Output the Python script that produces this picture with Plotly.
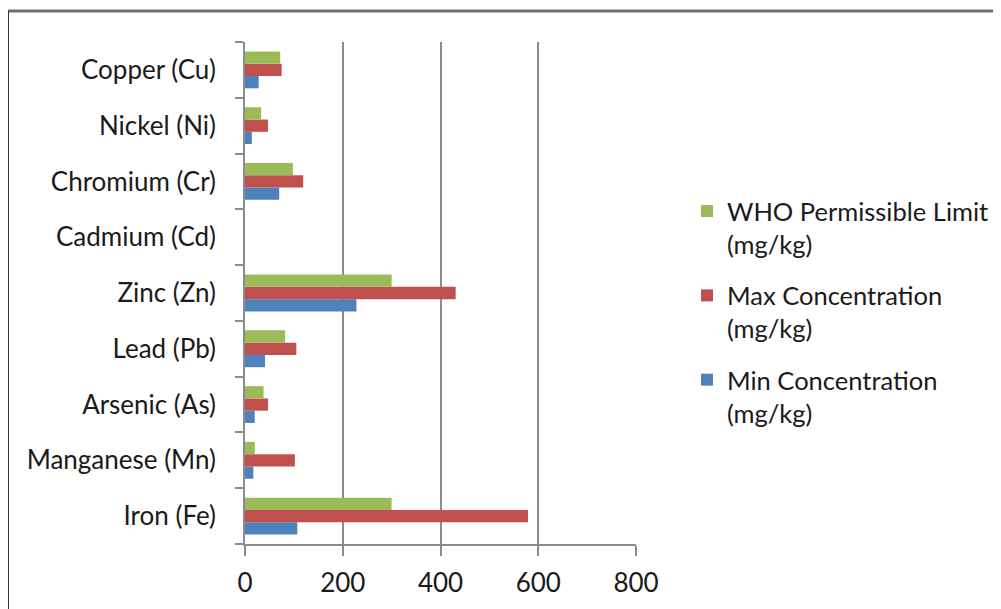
import plotly.graph_objects as go

categories = ["Iron (Fe)", "Manganese (Mn)", "Arsenic (As)", "Lead (Pb)", "Zinc (Zn)",
              "Cadmium (Cd)", "Chromium (Cr)", "Nickel (Ni)", "Copper (Cu)"]
min_conc = [107, 17, 20, 41, 228, 0, 70, 14, 28]
max_conc = [579, 102, 47, 105, 431, 0, 119, 47, 75]
who_limit = [300, 20, 38, 82, 300, 0, 98, 33, 72]

series_names = ["Min Concentration<br>(mg/kg)", "Max Concentration<br>(mg/kg)",
                "WHO Permissible Limit<br>(mg/kg)"]
series_values = [min_conc, max_conc, who_limit]
series_colors = ["#4F81BD", "#C0504D", "#9BBB59"]
legend_ranks = [3, 2, 1]

FONT = "Lato, Calibri, Carlito, sans-serif"
TXT = "#1a1a1a"

fig = go.Figure()
for i, (name, vals, col, rk) in enumerate(zip(series_names, series_values, series_colors, legend_ranks)):
    fig.add_trace(go.Bar(
        y=categories, x=vals, name=name, orientation="h",
        marker=dict(color=col, line=dict(width=0)),
        legendgroup=f"g{i}", legendrank=rk,
    ))

# page body adds an 8px offset; figure coordinates below are screen px - 8
W, H = 1001, 609
L, R, T, B = 237, 373, 34, 73
pw, ph = W - L - R, H - T - B

def px_x(p):
    return (p - L) / pw

def px_y(p):
    return (H - B - p) / ph

fig.update_layout(
    width=W, height=H,
    margin=dict(l=L, r=R, t=T, b=B, autoexpand=False),
    paper_bgcolor="white", plot_bgcolor="white",
    barmode="group", bargap=0.34, bargroupgap=0,
    font=dict(family=FONT, size=26, color=TXT),
    showlegend=True,
    legend=dict(
        x=px_x(679), y=px_y(180), xanchor="left", yanchor="top",
        traceorder="grouped", tracegroupgap=15, valign="top",
        font=dict(family=FONT, size=25.5, color=TXT),
        itemwidth=30, bgcolor="rgba(0,0,0,0)",
    ),
    xaxis=dict(
        range=[0, 800], dtick=200, tick0=0,
        showgrid=True, gridcolor="#8c8c8c", gridwidth=1.5,
        showline=True, linecolor="#8c8c8c", linewidth=1.5,
        ticks="outside", ticklen=10, tickcolor="#8c8c8c", tickwidth=1.5,
        zeroline=False, ticklabelstandoff=5,
        tickfont=dict(family=FONT, size=26, color=TXT),
        fixedrange=True,
    ),
    yaxis=dict(
        categoryorder="array", categoryarray=categories,
        showline=True, linecolor="#8c8c8c", linewidth=1.5,
        ticks="outside", ticklen=8, tickcolor="#8c8c8c", tickwidth=1.5,
        tickson="boundaries", showgrid=False, zeroline=False,
        ticklabelstandoff=22,
        tickfont=dict(family=FONT, size=26, color=TXT),
        fixedrange=True,
    ),
    shapes=[
        dict(type="line", xref="paper", yref="paper",
             x0=px_x(-1), x1=px_x(1010), y0=px_y(3), y1=px_y(3),
             line=dict(color="#6e6e6e", width=3)),
        dict(type="line", xref="paper", yref="paper",
             x0=px_x(0), x1=px_x(0), y0=px_y(3), y1=px_y(620),
             line=dict(color="#333333", width=2)),
    ],
)

fig.write_html("out.html")
